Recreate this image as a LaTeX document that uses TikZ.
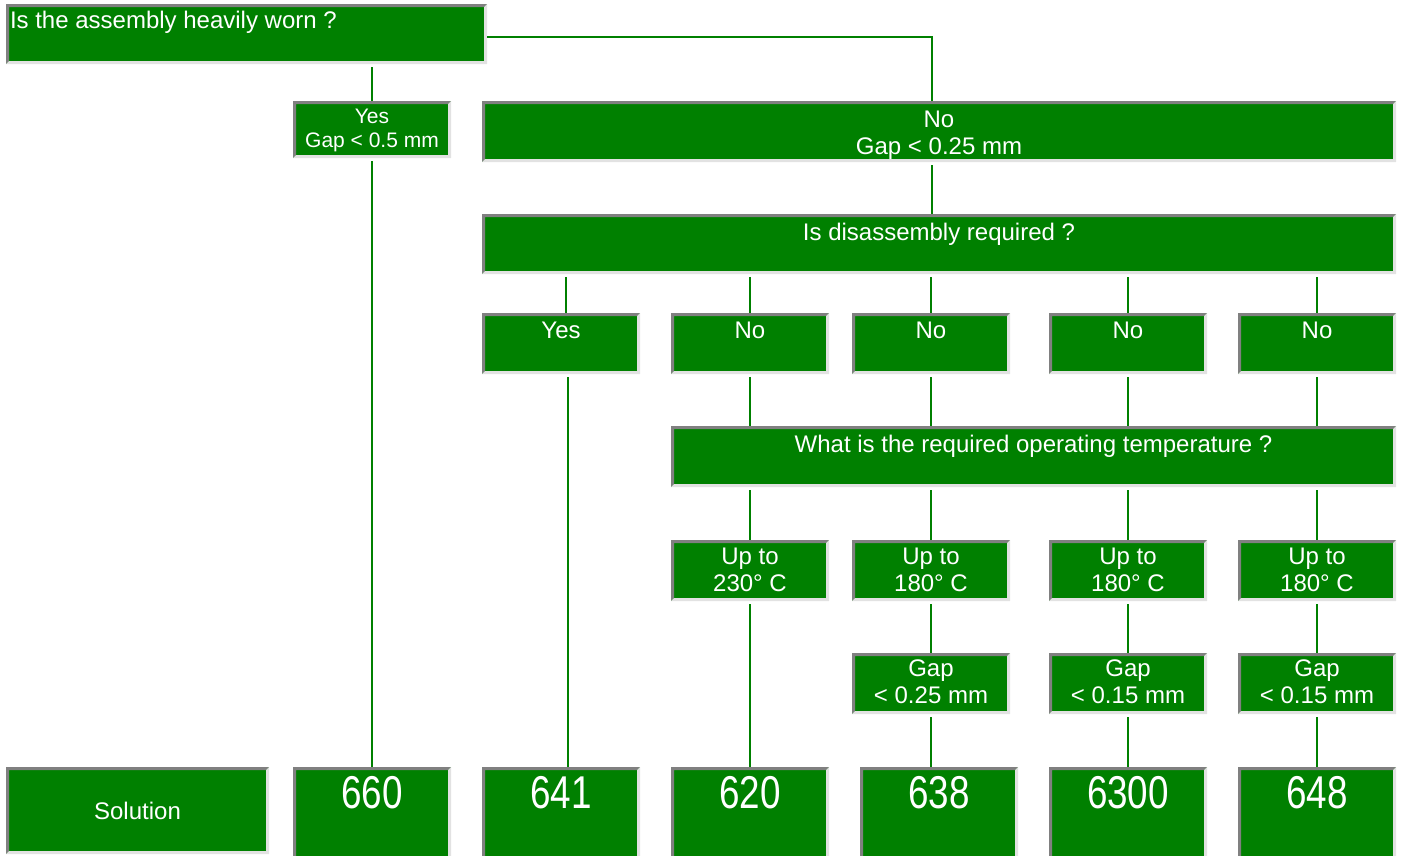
\documentclass[tikz,border=0pt]{standalone}
\usepackage{fontspec}
\setmainfont{Liberation Sans}
\usepackage{graphicx}
\usetikzlibrary{calc}
\definecolor{gr}{HTML}{008000}
\definecolor{dg}{HTML}{808080}
\definecolor{lg}{HTML}{E2E2E2}
\tikzset{
  bx/.style={fill=gr, draw=none, inner sep=0pt, outer sep=0pt, anchor=north west},
  ln/.style={draw=gr, line width=1.5pt},
  tx/.style={text=white, inner sep=0pt, outer sep=0pt, align=center, font=\fontsize{24}{27}\selectfont},
  txs/.style={tx, font=\fontsize{21}{24.5}\selectfont},
  num/.style={text=white, inner sep=0pt, outer sep=0pt, anchor=base, font=\fontsize{46}{50}\selectfont}
}
\newcommand\bevel[1]{%
  \fill[dg] (#1.south west) -- (#1.north west) -- (#1.north east)
    -- ([shift={(-3pt,-3pt)}]#1.north east) -- ([shift={(3pt,-3pt)}]#1.north west)
    -- ([shift={(3pt,3pt)}]#1.south west) -- cycle;
  \fill[lg] (#1.south west) -- (#1.south east) -- (#1.north east)
    -- ([shift={(-3pt,-3pt)}]#1.north east) -- ([shift={(-3pt,3pt)}]#1.south east)
    -- ([shift={(3pt,3pt)}]#1.south west) -- cycle;
}
\newcommand\mkbox[5]{%
  \node[bx, minimum width={#4pt-#2pt}, minimum height={#5pt-#3pt}] (#1) at (#2,#3) {};
  \bevel{#1}}
\begin{document}
\begin{tikzpicture}[x=1pt,y=-1pt]
\useasboundingbox (0,0) rectangle (1401,855);
% boxes
\mkbox{q1}{6}{4}{487}{64}
\mkbox{yes1}{293}{101}{451}{158}
\mkbox{no1}{482}{101}{1396}{162}
\mkbox{q2}{482}{214}{1396}{274}
\mkbox{yes2}{482}{313}{640}{374}
\mkbox{noA}{671}{313}{829}{374}
\mkbox{noB}{852}{313}{1010}{374}
\mkbox{noC}{1049}{313}{1207}{374}
\mkbox{noD}{1238}{313}{1396}{374}
\mkbox{q3}{671}{426}{1396}{487}
\mkbox{upA}{671}{540}{829}{601}
\mkbox{upB}{852}{540}{1010}{601}
\mkbox{upC}{1049}{540}{1207}{601}
\mkbox{upD}{1238}{540}{1396}{601}
\mkbox{gapB}{852}{653}{1010}{714}
\mkbox{gapC}{1049}{653}{1207}{714}
\mkbox{gapD}{1238}{653}{1396}{714}
\mkbox{sol}{6}{767}{269}{854}
\mkbox{s660}{293}{767}{451}{862}
\mkbox{s641}{482}{767}{640}{862}
\mkbox{s620}{671}{767}{829}{862}
\mkbox{s638}{860}{767}{1018}{862}
\mkbox{s6300}{1049}{767}{1207}{862}
\mkbox{s648}{1238}{767}{1396}{862}
% texts
\node[tx, anchor=base west] (tq1) at (10,28) {Is the assembly heavily worn ?};
\node[txs, anchor=north] (tyes1) at ($(yes1.north)+(0,8)$) {Yes\\Gap < 0.5 mm};
\node[tx, anchor=north] (tno1) at ($(no1.north)+(0,10)$) {No\\Gap < 0.25 mm};
\node[tx, anchor=base] (tq2) at ($(q2.north)+(0,26)$) {Is disassembly required ?};
\node[tx, anchor=base] (tyes2) at ($(yes2.north)+(0,25)$) {Yes};
\foreach \n in {noA,noB,noC,noD}
  \node[tx, anchor=base] (t\n) at ($(\n.north)+(0,25)$) {No};
\node[tx, anchor=base] (tq3) at ($(q3.north)+(0,26)$) {What is the required operating temperature ?};
\node[tx, anchor=north] (tupA) at ($(upA.north)+(0,8)$) {Up to\\230° C};
\foreach \n in {upB,upC,upD}
  \node[tx, anchor=north] (t\n) at ($(\n.north)+(0,8)$) {Up to\\180° C};
\node[tx, anchor=north] (tgapB) at ($(gapB.north)+(0,7)$) {Gap\\< 0.25 mm};
\foreach \n in {gapC,gapD}
  \node[tx, anchor=north] (t\n) at ($(\n.north)+(0,7)$) {Gap\\< 0.15 mm};
\node[tx, anchor=base] (tsol) at ($(sol.north)+(0,52)$) {Solution};
\foreach \n/\v in {s660/660,s641/641,s620/620,s638/638,s6300/6300,s648/648}
  \node[num] (t\n) at ($(\n.north)+(0,41)$) {\scalebox{0.8}[1]{\v}};
% connectors
\draw[ln] ($(q1.south -| yes1.north)+(0,3)$) -- (yes1.north);
\draw[ln] ($(q1.east)+(0,3)$) -| ($(no1.north)+(-7,0)$);
\draw[ln] ($(yes1.south)+(0,3)$) -- (s660.north);
\draw[ln] ($(no1.south)+(-7,3)$) -- ($(q2.north)+(-7,0)$);
\draw[ln] ($(q2.south -| yes2.north)+(5,3)$) -- ($(yes2.north)+(5,0)$);
\foreach \n in {noA,noB,noC,noD}{
  \draw[ln] ($(q2.south -| \n.north)+(0,3)$) -- (\n.north);
  \draw[ln] ($(\n.south)+(0,3)$) -- (\n.south |- q3.north);
}
\draw[ln] ($(yes2.south)+(7,3)$) -- ($(s641.north)+(7,0)$);
\foreach \n in {upA,upB,upC,upD}
  \draw[ln] ($(q3.south -| \n.north)+(0,3)$) -- (\n.north);
\draw[ln] ($(upA.south)+(0,3)$) -- (s620.north);
\draw[ln] ($(upB.south)+(0,3)$) -- (gapB.north);
\draw[ln] ($(upC.south)+(0,3)$) -- (gapC.north);
\draw[ln] ($(upD.south)+(0,3)$) -- (gapD.north);
\draw[ln] ($(gapB.south)+(0,3)$) -- (gapB.south |- s638.north);
\draw[ln] ($(gapC.south)+(0,3)$) -- (s6300.north);
\draw[ln] ($(gapD.south)+(0,3)$) -- (s648.north);
\end{tikzpicture}
\end{document}
